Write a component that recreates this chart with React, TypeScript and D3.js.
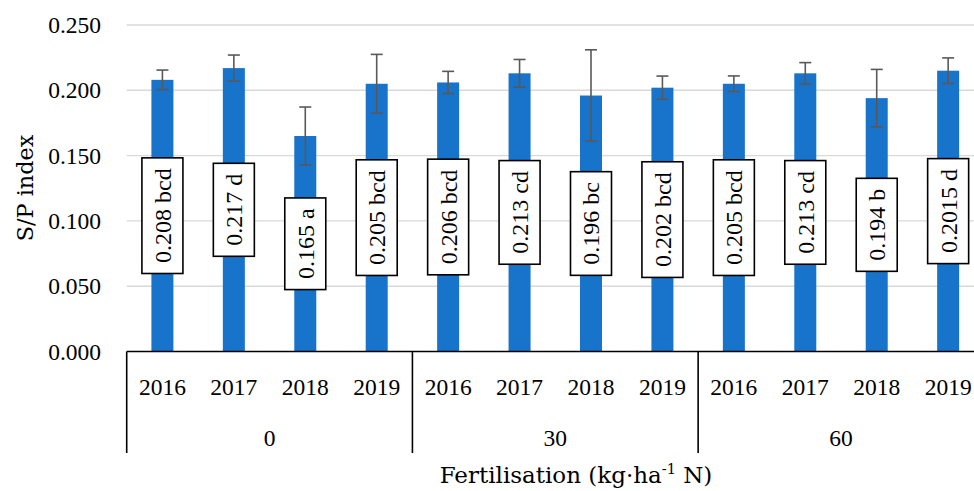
import React, { useEffect, useRef } from "react";
import * as d3 from "d3";

const groups = ["0", "30", "60"];
const years = ["2016", "2017", "2018", "2019"];
const means = [0.208, 0.217, 0.165, 0.205, 0.206, 0.213, 0.196, 0.202, 0.205, 0.213, 0.194, 0.215];
const errors = [0.0075, 0.010, 0.0222, 0.0225, 0.0085, 0.0106, 0.035, 0.0089, 0.006, 0.0082, 0.022, 0.0098];
const labels = ["0.208 bcd", "0.217 d", "0.165 a", "0.205 bcd", "0.206 bcd", "0.213 cd", "0.196 bc", "0.202 bcd", "0.205 bcd", "0.213 cd", "0.194 b", "0.2015 d"];
const yTicks = [0, 0.05, 0.1, 0.15, 0.2, 0.25];
const yTitle = "S/P index";
const xTitleMain = "Fertilisation (kg·ha";
const xTitleSup = "-1";
const xTitleEnd = " N)";

const W = 974;
const H = 491;
const NUM_FONT = "'Liberation Serif', 'Times New Roman', serif";
const TITLE_FONT = "'DejaVu Serif', serif";

export default function App() {
  const ref = useRef<SVGSVGElement | null>(null);

  useEffect(() => {
    const svg = d3.select(ref.current);
    svg.selectAll("*").remove();

    const x0 = 126.7;
    const step = 71.43;
    const cats = d3.range(groups.length * years.length);
    const x = d3.scaleBand<number>().domain(cats).range([x0, x0 + step * cats.length]).paddingInner(0.692).paddingOuter(0.346);
    const y = d3.scaleLinear().domain([0, 0.25]).range([351.5, 25]);
    const xRight = x0 + step * cats.length;

    // gridlines
    svg.append("g").selectAll("line").data(yTicks.filter(t => t > 0)).join("line")
      .attr("x1", x0).attr("x2", xRight)
      .attr("y1", d => y(d)).attr("y2", d => y(d))
      .attr("stroke", "#d9d9d9").attr("stroke-width", 1.4);

    // y tick labels
    svg.append("g").selectAll("text").data(yTicks).join("text")
      .attr("x", 101).attr("y", d => y(d) + 8)
      .attr("text-anchor", "end")
      .attr("font-family", NUM_FONT).attr("font-size", 23.5).attr("fill", "#000")
      .text(d => d3.format(".3f")(d));

    // bars
    svg.append("g").selectAll("rect").data(cats).join("rect")
      .attr("x", i => x(i)!).attr("width", x.bandwidth())
      .attr("y", i => y(means[i])).attr("height", i => y(0) - y(means[i]))
      .attr("fill", "#1873ca");

    // error bars
    const eg = svg.append("g").attr("stroke", "#595959").attr("stroke-width", 1.6);
    cats.forEach(i => {
      const cx = x(i)! + x.bandwidth() / 2;
      const hi = y(means[i] + errors[i]);
      const lo = y(means[i] - errors[i]);
      eg.append("line").attr("x1", cx).attr("x2", cx).attr("y1", hi).attr("y2", lo);
      eg.append("line").attr("x1", cx - 6).attr("x2", cx + 6).attr("y1", hi).attr("y2", hi);
      eg.append("line").attr("x1", cx - 6).attr("x2", cx + 6).attr("y1", lo).attr("y2", lo);
    });

    // data labels
    const lg = svg.append("g");
    cats.forEach(i => {
      const cx = x(i)! + x.bandwidth() / 2;
      const cy = y(means[i] / 2);
      const g = lg.append("g").attr("transform", `translate(${cx},${cy}) rotate(-90)`);
      const rect = g.append("rect").attr("fill", "#fff").attr("stroke", "#000").attr("stroke-width", 1.6);
      const t = g.append("text")
        .attr("x", 0).attr("y", 8.5)
        .attr("text-anchor", "middle")
        .attr("font-family", NUM_FONT).attr("font-size", 24).attr("fill", "#000")
        .text(labels[i]);
      const len = (t.node() as SVGTextElement).getComputedTextLength();
      const bw = len + 21;
      rect.attr("x", -bw / 2).attr("y", -20.5).attr("width", bw).attr("height", 41);
    });

    // x axis line and separators
    const ag = svg.append("g").attr("stroke", "#000").attr("stroke-width", 1.6);
    ag.append("line").attr("x1", x0).attr("x2", xRight).attr("y1", y(0)).attr("y2", y(0));
    d3.range(groups.length + 1).forEach(g => {
      const gx = x0 + step * years.length * g;
      ag.append("line").attr("x1", gx).attr("x2", gx).attr("y1", y(0)).attr("y2", 453);
    });

    // year labels
    svg.append("g").selectAll("text").data(cats).join("text")
      .attr("x", i => x(i)! + x.bandwidth() / 2).attr("y", 395)
      .attr("text-anchor", "middle")
      .attr("font-family", NUM_FONT).attr("font-size", 23.5).attr("fill", "#000")
      .text(i => years[i % years.length]);

    // group labels
    svg.append("g").selectAll("text").data(groups).join("text")
      .attr("x", (_, g) => x0 + step * years.length * (g + 0.5)).attr("y", 446)
      .attr("text-anchor", "middle")
      .attr("font-family", NUM_FONT).attr("font-size", 23.5).attr("fill", "#000")
      .text(d => d);

    // y title
    svg.append("text")
      .attr("transform", `translate(33,188) rotate(-90)`)
      .attr("text-anchor", "middle")
      .attr("font-family", TITLE_FONT).attr("font-size", 22.3).attr("fill", "#000")
      .text(yTitle);

    // x title
    const xt = svg.append("text")
      .attr("x", 576).attr("y", 483)
      .attr("text-anchor", "middle")
      .attr("font-family", TITLE_FONT).attr("font-size", 23).attr("fill", "#000");
    xt.append("tspan").text(xTitleMain);
    xt.append("tspan").attr("font-size", 14.5).attr("dy", -9).text(xTitleSup);
    xt.append("tspan").attr("dy", 9).text(xTitleEnd);
  }, []);

  return (
    <svg ref={ref} width={W} height={H} style={{ position: "absolute", left: 0, top: 0, background: "#fff" }} />
  );
}
